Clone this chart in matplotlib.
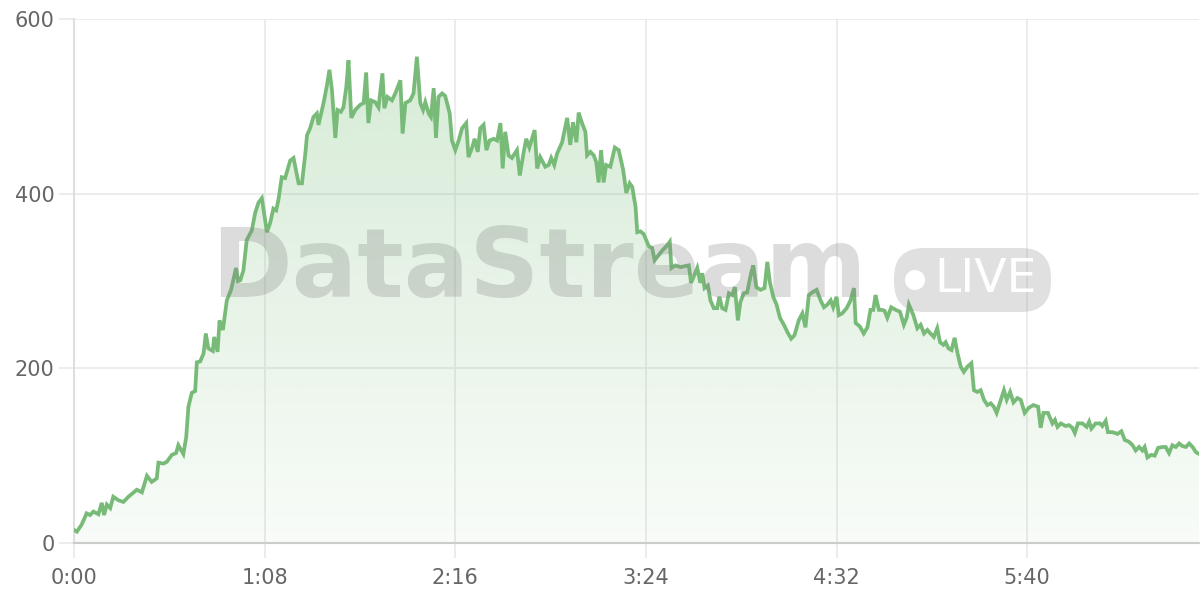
import numpy as np
import matplotlib
matplotlib.use('Agg')
import matplotlib.pyplot as plt
from matplotlib.patches import FancyBboxPatch, Circle
from matplotlib.colors import LinearSegmentedColormap

# time in seconds, viewers
seconds = [
    0.0, 1.0, 2.7, 4.5, 5.7, 6.9, 8.7, 9.9, 10.7, 11.7, 12.9, 14.0, 15.8, 17.6, 19.4, 22.4, 24.2, 26.0,
    27.7, 29.5, 30.1, 31.9, 33.1, 34.9, 36.4, 37.2, 39.0, 40.0, 40.8, 42.0, 43.2, 43.8, 45.0, 46.2,
    47.0, 47.9, 49.5, 50.0, 51.2, 51.9, 53.1, 54.5, 56.0, 57.8, 58.5, 59.3, 60.4, 61.6, 63.4, 64.6,
    65.8, 67.0, 68.8, 70.0, 71.1, 72.1, 72.9, 74.1, 75.3, 77.1, 78.3, 80.1, 81.3, 82.5, 83.1, 84.2,
    85.4, 86.6, 87.2, 88.4, 89.0, 90.2, 91.1, 92.0, 93.2, 94.0, 95.2, 96.1, 97.1, 97.9, 98.9, 100.3,
    102.1, 103.3, 104.2, 105.0, 106.0, 107.4, 108.6, 110.0, 110.7, 111.8, 113.4, 114.6, 116.4, 117.2,
    118.2, 119.9, 121.1, 122.3, 123.5, 124.5, 125.3, 126.5, 127.3, 128.3, 129.1, 130.0, 131.3, 132.4,
    134.0, 134.8, 136.0, 137.2, 138.4, 139.9, 140.7, 142.0, 142.9, 144.0, 144.9, 146.1, 147.1, 148.2,
    149.7, 150.9, 152.1, 152.9, 153.8, 155.0, 156.2, 158.0, 159.0, 160.2, 161.3, 162.4, 164.3, 165.2,
    166.3, 168.1, 169.3, 170.2, 171.3, 172.3, 174.1, 175.9, 177.0, 178.0, 179.2, 180.0, 181.2, 182.4,
    183.0, 184.2, 185.4, 186.3, 187.1, 188.0, 188.9, 189.8, 191.3, 192.9, 194.3, 195.9, 197.0, 198.2,
    199.1, 200.3, 200.9, 202.0, 203.2, 205.0, 206.2, 207.1, 208.6, 209.8, 211.6, 212.5, 213.1, 214.5,
    216.3, 217.7, 219.3, 220.1, 221.3, 222.3, 223.4, 224.1, 224.9, 226.1, 227.0, 228.2, 229.4, 230.2,
    231.2, 232.4, 233.6, 234.8, 235.7, 236.8, 237.7, 238.9, 240.1, 241.5, 242.3, 243.4, 244.9, 246.3,
    247.3, 248.2, 249.4, 250.6, 251.8, 253.2, 254.4, 255.8, 257.0, 258.5, 259.8, 260.9, 262.1, 263.3,
    264.9, 266.3, 267.5, 268.7, 269.9, 270.8, 272.0, 272.8, 274.0, 275.6, 277.0, 278.2, 278.8, 280.3,
    281.7, 283.0, 284.1, 285.1, 285.9, 287.1, 288.3, 289.1, 290.1, 291.5, 293.1, 294.6, 296.0, 297.0,
    297.8, 299.4, 300.8, 302.0, 303.2, 304.4, 305.5, 306.7, 307.9, 308.9, 310.1, 310.9, 311.9, 313.0,
    314.1, 315.1, 316.3, 317.4, 318.7, 320.1, 321.0, 322.2, 323.4, 324.6, 325.8, 327.0, 328.1, 329.1,
    330.3, 331.7, 332.7, 333.9, 335.1, 336.5, 337.7, 339.1, 340.6, 342.2, 343.9, 344.8, 345.8, 347.4,
    349.0, 349.9, 350.8, 352.0, 353.7, 354.9, 356.1, 357.0, 358.1, 359.7, 361.2, 362.1, 362.9, 364.4,
    366.0, 366.8, 368.0, 368.8, 370.4, 372.2, 373.6, 374.8, 376.3, 377.6, 378.7, 379.9, 381.1, 381.9,
    382.9, 384.3, 385.5, 386.7, 388.3, 389.4, 390.6, 391.8, 393.0, 394.2, 395.4, 396.6, 397.8, 399.0,
    400.2, 401.3,
]
viewers = [
    15, 13, 21, 34, 32, 36, 33, 46, 32, 44, 40, 53, 49, 47, 53, 61, 58, 77,
    70, 74, 92, 91, 93, 101, 103, 112, 102, 121, 156, 172, 174, 207, 208, 217,
    240, 223, 220, 236, 219, 255, 244, 278, 290, 315, 300, 301, 312, 347, 358, 378,
    390, 395, 356, 367, 383, 381, 393, 419, 418, 438, 441, 412, 412, 446, 467, 475,
    488, 492, 479, 496, 504, 524, 542, 519, 464, 496, 494, 499, 522, 553, 487, 496,
    502, 504, 539, 481, 507, 505, 499, 538, 498, 511, 507, 515, 530, 469,
    504, 507, 515, 557, 504, 496, 505, 492, 488, 521, 464, 511, 515, 512,
    492, 461, 450, 461, 475, 481, 442, 453, 463, 448, 475, 479, 450, 461,
    463, 461, 481, 429, 471, 444, 441, 450, 421, 444, 463, 453, 473, 429,
    442, 431, 433, 441, 433, 446, 459, 487, 456, 482, 459, 493, 481, 471,
    444, 448, 444, 436, 413, 450, 413, 433, 431, 453, 450, 427, 401, 412,
    408, 385, 356, 357, 354, 340, 338, 324, 330, 335, 341, 345, 315, 318,
    316, 317, 318, 298, 307, 315, 298, 309, 292, 295, 278, 269, 269, 282,
    269, 267, 286, 284, 293, 255, 276, 286, 287, 309, 318, 293, 290, 292,
    322, 299, 282, 273, 258, 250, 242, 234, 238, 255, 263, 247, 284, 287,
    290, 278, 270, 273, 278, 270, 282, 261, 263, 269, 278, 292, 252, 248,
    240, 247, 267, 267, 284, 267, 267, 266, 258, 270, 267, 265, 250, 258,
    273, 261, 246, 250, 240, 244, 240, 236, 246, 230, 227, 230, 223, 221,
    235, 218, 202, 196, 202, 206, 175, 173, 175, 164, 158, 160, 156, 149,
    161, 175, 164, 173, 161, 166, 164, 149, 155, 158, 156, 132, 149, 149,
    137, 141, 133, 137, 134, 135, 132, 126, 137, 137, 133, 139, 131, 137,
    137, 134, 140, 127, 127, 125, 128, 118, 116, 112, 106, 110, 106, 110,
    98, 101, 100, 109, 110, 110, 103, 112, 110, 114, 111, 110, 114, 110,
    104, 102,
]
tick_seconds = [0, 68, 136, 204, 272, 340]
tick_labels = ['0:00', '1:08', '2:16', '3:24', '4:32', '5:40']
y_ticks = [0, 200, 400, 600]

line_color = '#78bb78'
text_color = '#666666'
grid_color = '#e9e9e9'

fig = plt.figure(figsize=(12, 6), dpi=100)
ax = fig.add_axes([0.0617, 0.095, 0.9375, 0.873])

x = np.array(seconds)
y = np.array(viewers)

# gradient fill under the line
cmap = LinearSegmentedColormap.from_list('g', [(120/255, 190/255, 120/255, 0.05),
                                               (120/255, 190/255, 120/255, 0.32)])
grad = np.linspace(0, 1, 256).reshape(-1, 1)
img = ax.imshow(grad, cmap=cmap, aspect='auto', origin='lower',
                extent=[x.min(), x.max(), 0, 600], zorder=1)
fill = ax.fill_between(x, y, 0, color='none', lw=0)
img.set_clip_path(fill.get_paths()[0], transform=ax.transData)

ax.plot(x, y, color=line_color, lw=2.7, zorder=4, solid_joinstyle='miter')

ax.set_xlim(0, 401.3)
ax.set_ylim(0, 600)
ax.set_xticks(tick_seconds)
ax.set_xticklabels(tick_labels)
ax.set_yticks(y_ticks)
ax.grid(True, color=grid_color, lw=1.2, zorder=0)
ax.set_axisbelow(True)
ax.tick_params(axis='both', colors=grid_color, length=11, width=1.2, labelsize=15,
               labelcolor=text_color)
ax.tick_params(axis='x', pad=7)
ax.tick_params(axis='y', pad=3)
for side in ['top', 'right']:
    ax.spines[side].set_visible(False)
ax.spines['left'].set_color('#dadada')
ax.spines['left'].set_linewidth(1.2)
ax.spines['bottom'].set_color('#cccccc')
ax.spines['bottom'].set_linewidth(1.5)

# watermark
wm = '#808080'
fig.text(0.449, 0.55, 'DataStream', fontsize=70, fontweight='bold', color=wm, alpha=0.27,
         ha='center', va='center', zorder=3)
badge = FancyBboxPatch((894, 288), 157, 64, boxstyle='round,pad=0,rounding_size=30',
                       transform=None, facecolor=wm, alpha=0.24, edgecolor='none', zorder=3)
fig.patches.append(badge)
fig.patches.append(Circle((915, 320), 10, transform=None, facecolor='white', edgecolor='none', zorder=3))
fig.text(986 / 1200, 320 / 600, 'LIVE', fontsize=34, color='white', ha='center', va='center', zorder=3)

fig.savefig('out.png', dpi=100)
